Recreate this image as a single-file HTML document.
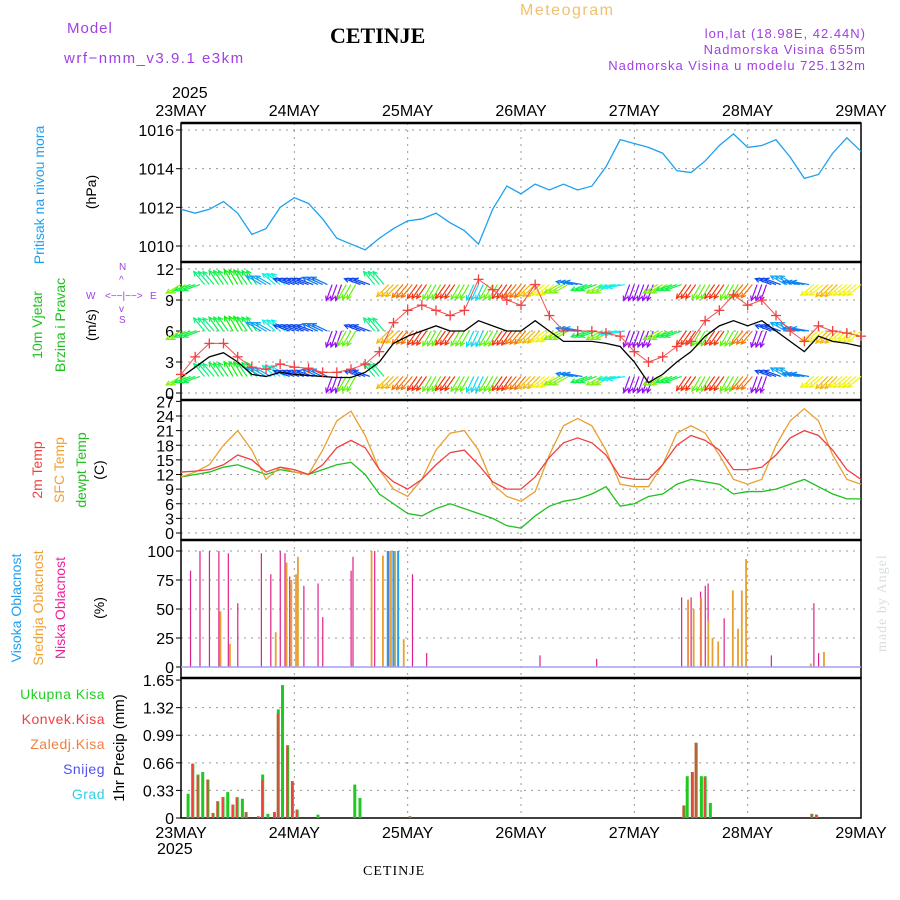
<!DOCTYPE html>
<html><head><meta charset="utf-8"><style>
html,body{margin:0;padding:0;background:#fff;}
svg{display:block;font-family:"Liberation Sans",sans-serif;}
</style></head><body>
<svg id="chart" width="900" height="900" viewBox="0 0 900 900" xmlns="http://www.w3.org/2000/svg">
<g>
<text x="67" y="33" fill="#a040e0" font-size="15" letter-spacing="1">Model</text>
<text x="64" y="63" fill="#a040e0" font-size="15" letter-spacing="1.5">wrf−nmm_v3.9.1  e3km</text>
<text x="330" y="43" fill="#000" font-size="22" font-weight="bold" font-family="Liberation Serif,serif">CETINJE</text>
<text x="520" y="15" fill="#f0c070" font-size="16" letter-spacing="1.5">Meteogram</text>
<text x="866" y="38" fill="#a040e0" font-size="13" text-anchor="end" letter-spacing="1">lon,lat (18.98E, 42.44N)</text>
<text x="866" y="54" fill="#a040e0" font-size="13" text-anchor="end" letter-spacing="1">Nadmorska Visina 655m</text>
<text x="866" y="70" fill="#a040e0" font-size="13" text-anchor="end" letter-spacing="1">Nadmorska Visina u modelu 725.132m</text>
<text x="172" y="98" font-size="16">2025</text>
<text x="363" y="875" font-size="14" font-family="Liberation Serif,serif" letter-spacing="1">CETINJE</text>
<text transform="translate(886,652) rotate(-90)" font-size="14" fill="#d8e0d8" font-family="Liberation Serif,serif" letter-spacing="1">made by Angel</text>
</g>
<g font-size="14">
<text transform="translate(44,195) rotate(-90)" text-anchor="middle" fill="#1ea0f0">Pritisak na nivou mora</text>
<text transform="translate(96,192) rotate(-90)" text-anchor="middle">(hPa)</text>
<text transform="translate(42,325) rotate(-90)" text-anchor="middle" fill="#20c020">10m Vjetar</text>
<text transform="translate(65,325) rotate(-90)" text-anchor="middle" fill="#20c020">Brzina i Pravac</text>
<text transform="translate(96,325) rotate(-90)" text-anchor="middle">(m/s)</text>
<g fill="#a040e0" font-size="10"><text x="119" y="270">N</text><text x="119" y="283">^</text><text x="105" y="299">&lt;−−|−−&gt;</text><text x="86" y="299">W</text><text x="150" y="299">E</text><text x="119" y="312">v</text><text x="119" y="323">S</text></g>
<text transform="translate(42,470) rotate(-90)" text-anchor="middle" fill="#f04040">2m Temp</text>
<text transform="translate(64,470) rotate(-90)" text-anchor="middle" fill="#f0a030">SFC Temp</text>
<text transform="translate(86,470) rotate(-90)" text-anchor="middle" fill="#20c020">dewpt Temp</text>
<text transform="translate(104,470) rotate(-90)" text-anchor="middle">(C)</text>
<text transform="translate(21,608) rotate(-90)" text-anchor="middle" fill="#1ea0f0">Visoka Oblacnost</text>
<text transform="translate(43,608) rotate(-90)" text-anchor="middle" fill="#f0a030">Srednja Oblacnost</text>
<text transform="translate(65,608) rotate(-90)" text-anchor="middle" fill="#f0209a">Niska Oblacnost</text>
<text transform="translate(104,608) rotate(-90)" text-anchor="middle">(%)</text>
<g text-anchor="end" font-size="14" letter-spacing="0.5">
<text x="105" y="699" fill="#20d020">Ukupna  Kisa</text>
<text x="105" y="724" fill="#f04040">Konvek.Kisa</text>
<text x="105" y="749" fill="#f08040">Zaledj.Kisa</text>
<text x="105" y="774" fill="#5050f0">Snijeg</text>
<text x="105" y="799" fill="#30d0e0">Grad</text>
</g>
<text transform="translate(124,748) rotate(-90)" text-anchor="middle" font-size="15">1hr Precip (mm)</text>
</g>
<g id="plots"></g>
</svg>
<script>
const days=["23MAY","24MAY","25MAY","26MAY","27MAY","28MAY","29MAY"];
const pressure=[1011.9,1011.7,1011.9,1012.3,1011.7,1010.6,1010.9,1012.0,1012.5,1012.2,1011.4,1010.4,1010.1,1009.8,1010.4,1010.9,1011.3,1011.4,1011.7,1011.2,1010.8,1010.1,1011.9,1013.1,1012.7,1013.2,1012.9,1013.2,1012.9,1013.1,1014.1,1015.5,1015.3,1015.1,1014.8,1013.9,1013.8,1014.4,1015.2,1015.8,1015.1,1015.2,1015.5,1014.6,1013.5,1013.7,1014.8,1015.6,1014.9];
const windSpeed=[1.5,2.5,3.5,3.9,3.0,1.8,1.6,2.0,1.8,1.7,1.6,1.5,1.5,2.0,3.0,4.8,5.5,6.0,6.5,6.0,6.0,7.0,6.5,6.0,6.0,7.0,6.0,5.0,5.0,5.0,4.8,4.5,3.0,1.0,1.8,3.0,4.0,5.5,6.5,7.0,6.5,7.0,6.0,5.0,4.0,5.5,5.0,4.8,4.5];
const windGust=[1.8,3.5,4.8,4.8,3.5,2.5,2.3,2.8,2.5,2.4,2.0,2.0,2.3,2.8,4.0,6.8,8.0,8.5,8.0,7.5,8.0,11.0,10.0,9.0,8.5,10.5,7.5,6.0,6.0,6.0,5.8,5.5,4.0,3.0,3.5,4.5,5.0,7.0,8.0,9.5,8.5,9.0,7.5,6.0,5.0,6.5,6.0,5.8,5.5];
const windDir=[240,250,320,325,330,325,300,310,290,290,295,200,210,290,320,225,220,215,210,215,210,205,210,215,220,225,230,240,280,250,240,260,200,200,240,250,215,210,215,210,220,200,290,300,280,230,225,230,230];
const temp2m=[12.5,12.7,13,14,16,15,12.5,13.5,13,12,14,17.5,19,17.5,13,10.5,9,11,14,16.5,17,14,10.5,9,9,11.5,15.5,18.5,19.5,18.5,16,11.5,11,11,14,18,20,19,17,13,13,13.5,16,19.5,21,20,17,13,11];
const tempSfc=[11.5,12.5,14,18,21,17,11,13.5,12.5,12,17,23,25,20,13,9,7.5,11,17,20.5,21,17,10,7.5,6.5,8.5,16,22,23.5,22,17,10,9.5,9.5,14,20.5,22,20.5,16,11,10,11,18,23,25.5,23,16,11,10];
const dewpt=[11.5,12,12.5,13.5,14,13,12,13,12.5,12,13,14,14.5,12,8,6,4,3.5,5,6,5,4,3,1.5,1,3.5,5.5,6.5,7,8,9.5,5.5,6,7.5,8,10,11,10.5,10,8,8.5,8.5,9,10,11,9.5,8,7,7];
const lowHour=[2,4,6,8,10,12,17,19,21,22,23,26,29,30,36,36.4,41,44,46,49,52,76,88,106,107.4,108,110,111,111.6,115,125,134,135];
const lowVal=[83,100,100,100,98,55,98,80,100,98,78,70,72,43,83,95,100,100,85,80,12,10,7,60,58,60,65,70,72,42,10,55,12];
const midHour=[8,10,19.7,22,23,24,24.4,40,42.4,44.1,45,46.8,107,108.2,109.8,111.3,112.2,113.4,116.5,117.6,118.4,119.3,133,135.8];
const midVal=[48,20,30,90,75,80,95,100,96,100,100,24,58,50,60,40,25,22,66,33,66,93,3,13];
const highHour=[43.4,44.6,45.6];
const highVal=[100,100,100];
const precHour=[1.5,2.5,3.6,4.6,5.7,6.8,7.8,8.9,9.9,11,11.9,13,13.8,16.4,17.3,18.4,19.8,20.6,21.5,22.6,23.6,24.6,29,36.8,37.9,48.5,106.5,107.2,108.3,109.1,110.2,111,112.1,133.6,134.6];
const precTotal=[0.29,0.65,0.52,0.55,0.46,0.06,0.20,0.25,0.31,0.16,0.25,0.23,0.07,0.02,0.52,0.05,0.07,1.30,1.59,0.87,0.44,0.10,0.04,0.40,0.24,0.02,0.15,0.50,0.55,0.90,0.50,0.50,0.18,0.05,0.04];
const precConv=[0.0,0.65,0.50,0.0,0.46,0.06,0.20,0.25,0.0,0.16,0.24,0.0,0.07,0.02,0.45,0.0,0.07,1.25,0.0,0.87,0.44,0.10,0.0,0.0,0.0,0.02,0.15,0.0,0.55,0.90,0.0,0.48,0.0,0.05,0.04];
const pTicks=[1010,1012,1014,1016], wTicks=[0,3,6,9,12], tTicks=[0,3,6,9,12,15,18,21,24,27], cTicks=[0,25,50,75,100], rTicks=["0","0.33","0.66","0.99","1.32","1.65"];

const NS="http://www.w3.org/2000/svg";
const X0=181,X1=861;
const xH=h=>X0+(X1-X0)*h/144;
const x3=i=>xH(i*3);
const yP=v=>246-(v-1010)*19.33;
const yW=v=>393-v*10.33;
const yT=v=>533-v*4.875;
const yC=v=>667-v*1.16;
const yR=v=>818-v*83.6;
const root=document.getElementById('plots');
function mk(tag,attrs,parent){const e=document.createElementNS(NS,tag);for(const k in attrs)e.setAttribute(k,attrs[k]);(parent||root).appendChild(e);return e;}
const panels=[[123,262,pTicks,yP,"pressure-panel"],[262,400,wTicks,yW,"wind-panel"],[400,540,tTicks,yT,"temp-panel"],[540,678,cTicks,yC,"cloud-panel"],[678,818,rTicks.map(Number),yR,"precip-panel"]];
panels.forEach(([t,b,ticks,f,name],pi)=>{
  const g=mk('g',{});
  
  
  for(let d=1;d<6;d++){const l=mk('line',{x1:X0+d*(X1-X0)/6,x2:X0+d*(X1-X0)/6,y1:t,y2:b,stroke:'#999','stroke-dasharray':'2,5'},g);}
  ticks.forEach((v,i)=>{const y=f(v);
    if(y>t+3&&y<b-3){const l=mk('line',{x1:X0,x2:X1,y1:y,y2:y,stroke:'#999','stroke-dasharray':'2,5'},g);}
    const tx=mk('text',{x:X0-7,y:y+6,'text-anchor':'end','font-size':'16'},g);
    
    
    tx.textContent=pi==4?rTicks[i]:String(v);
    mk('line',{x1:X0-5,x2:X0,y1:y,y2:y,stroke:'#000'},g);
  });
  const r=mk('rect',{x:X0,y:t,width:X1-X0,height:b-t,fill:'none',stroke:'#000','stroke-width':'1.5'},g);
  
  
  mk('line',{x1:X0,x2:X1,y1:t,y2:t,stroke:'#000','stroke-width':'2.5'},g);
});
days.forEach((d,i)=>{const x=X0+i*(X1-X0)/6;
  const a=mk('text',{x:x,y:116,'text-anchor':'middle','font-size':'16'});a.textContent=d;
  
  
  const b=mk('text',{x:x,y:838,'text-anchor':'middle','font-size':'16'});b.textContent=d;
  
  
});
const yr=mk('text',{x:157,y:854,'font-size':'16'});yr.textContent='2025';


function poly(arr,fx,fy,col,name,w){const p=mk('polyline',{points:arr.map((v,i)=>fx(i)+','+fy(v)).join(' '),fill:'none',stroke:col,'stroke-width':w||1.3});return p;}
poly(pressure,x3,yP,'#1ea0f0','pressure-line');
const rows=[10.5,6,1.6];
function hueOf(a){const m=[[200,275],[215,10],[225,45],[240,90],[260,180],[290,225],[320,150],[330,120]];
  if(a<=m[0][0])return m[0][1];for(let k=1;k<m.length;k++){if(a<=m[k][0]){const t=(a-m[k-1][0])/(m[k][0]-m[k-1][0]);return m[k-1][1]+t*(m[k][1]-m[k-1][1]);}}return m[m.length-1][1];}
rows.forEach(rv=>{windDir.forEach((a,i)=>{
  [-4.7,0,4.7].forEach(dx=>{
  const x=x3(i)+dx; if(x<X0||x>X1)return;
  const y=yW(rv),L=17,rad=a*Math.PI/180;
  const x2=x+L*Math.sin(rad),y2=y-L*Math.cos(rad);
  const col='hsl('+hueOf(a)+',90%,50%)';
  const g=mk('g',{stroke:col,'stroke-width':'1.2',fill:'none'});
  
  
  mk('line',{x1:x,y1:y,x2:x2,y2:y2},g);
  const h1=rad+Math.PI*0.85,h2=rad-Math.PI*0.85;
  mk('polyline',{points:(x2+5*Math.sin(h1))+','+(y2-5*Math.cos(h1))+' '+x2+','+y2+' '+(x2+5*Math.sin(h2))+','+(y2-5*Math.cos(h2))},g);
  });
});});
poly(windSpeed,x3,yW,'#000','wind-speed-line');
poly(windGust,x3,yW,'#f05050','wind-gust-line',1);
windGust.forEach((v,i)=>{const x=x3(i),y=yW(v);const g=mk('g',{stroke:'#f04040','stroke-width':'1.3'});
  
  
  mk('line',{x1:x-5,x2:x+5,y1:y,y2:y},g);mk('line',{x1:x,x2:x,y1:y-5,y2:y+5},g);});
poly(dewpt,x3,yT,'#20c020','dewpoint-line');
poly(tempSfc,x3,yT,'#e8a030','sfc-temp-line');
poly(temp2m,x3,yT,'#f04040','temp-2m-line');
function bars(hours,vals,fy,col,name,off,w){hours.forEach((h,i)=>{const y=fy(vals[i]);if(vals[i]<=0)return;const r=mk('rect',{x:xH(h)+off,y:y,width:w,height:fy(0)-y,fill:col});});}
bars(lowHour,lowVal,yC,'#e0208a','low-cloud-bar',-0.5,1.2);
bars(midHour,midVal,yC,'#e8a030','mid-cloud-bar',0.8,1.8);
bars(highHour,highVal,yC,'#20a0f0','high-cloud-bar',0.8,2);
mk('line',{x1:X0,x2:X1,y1:yC(0),y2:yC(0),stroke:'#a0a0f0','stroke-width':'1.5'});
bars(precHour,precTotal,yR,'#20c820','precip-total-bar',-1.5,3);
bars(precHour,precConv,yR,'#f04040','precip-conv-bar',-1.5,2);
</script>
</body></html>
